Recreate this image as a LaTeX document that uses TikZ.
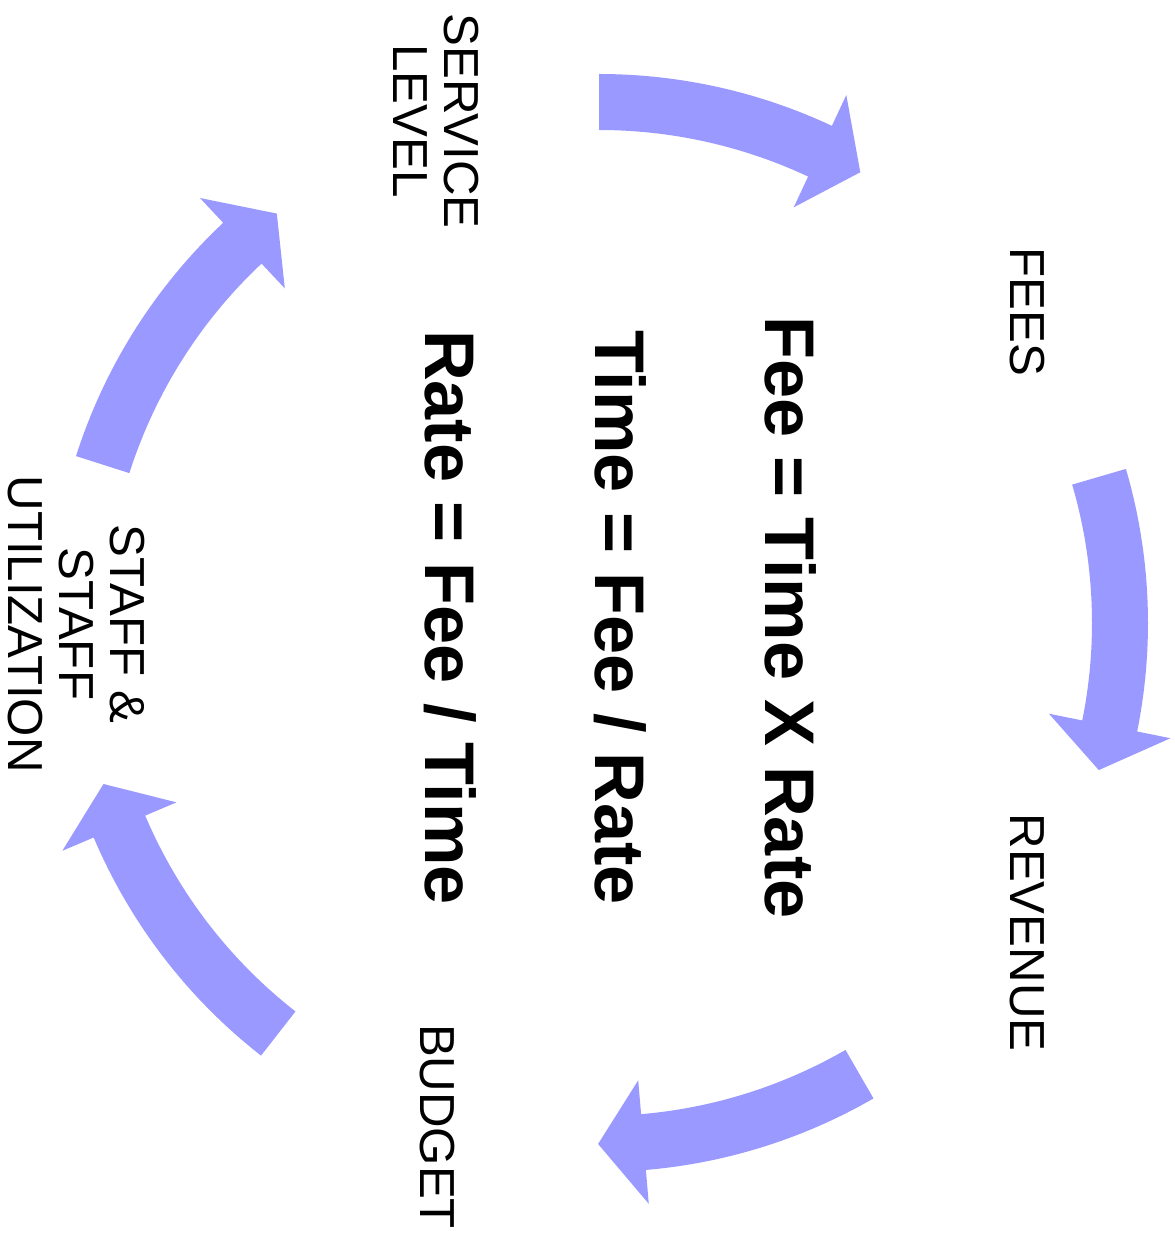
\documentclass[tikz,border=0pt]{standalone}
\usepackage{fontspec}
\setmainfont{Liberation Sans}

\definecolor{cyclefill}{HTML}{9999FF}

\tikzset{
  cyclearrow/.style={fill=cyclefill},
  steplabel/.style={rotate=-90, inner sep=0pt, align=center,
    font=\fontsize{28}{29}\selectfont},
  formula/.style={rotate=-90, inner sep=0pt,
    font=\bfseries\fontsize{40}{48}\selectfont}
}

% block arrow on the ring: tail angle, head base angle, tip angle
\newcommand{\cyclearrow}[3]{%
  \fill[cyclearrow] plot[domain=#1:#2, samples=40] (\x:549) -- (#2:583) -- (#3:521)
    -- (#2:459) -- plot[domain=#2:#1, samples=40] (\x:493) -- cycle;}

\begin{document}
\begin{tikzpicture}[x=0.02cm, y=0.02cm]
  \useasboundingbox (0,0) rectangle (1174,1233);

  % arrows round the cycle
  \begin{scope}[shift={(599,610)}]
    \cyclearrow{90}{64.9}{59.9}
    \cyclearrow{16.3}{-11.4}{-16.4}
    \cyclearrow{-60}{-85.1}{-90.1}
    \cyclearrow{-128}{-157}{-162}
    \cyclearrow{162.3}{133.2}{128.2}
  \end{scope}

  % steps
  \node[steplabel, anchor=north] (service) at (479,1112) {SERVICE\\LEVEL};
  \node[steplabel, anchor=base] (fees) at (1010,921) {FEES};
  \node[steplabel, anchor=base] (revenue) at (1010,300.5) {REVENUE};
  \node[steplabel, anchor=base] (budget) at (420,106.5) {BUDGET};
  \node[steplabel, anchor=north] (staff) at (145,609) {STAFF \&\\STAFF\\UTILIZATION};

  % formulas
  \node[formula, anchor=base] (fee) at (765,615.5) {Fee = Time X Rate};
  \node[formula, anchor=base] (time) at (595,615.5) {Time = Fee / Rate};
  \node[formula, anchor=base] (rate) at (425,615.5) {Rate = Fee / Time};
\end{tikzpicture}
\end{document}
